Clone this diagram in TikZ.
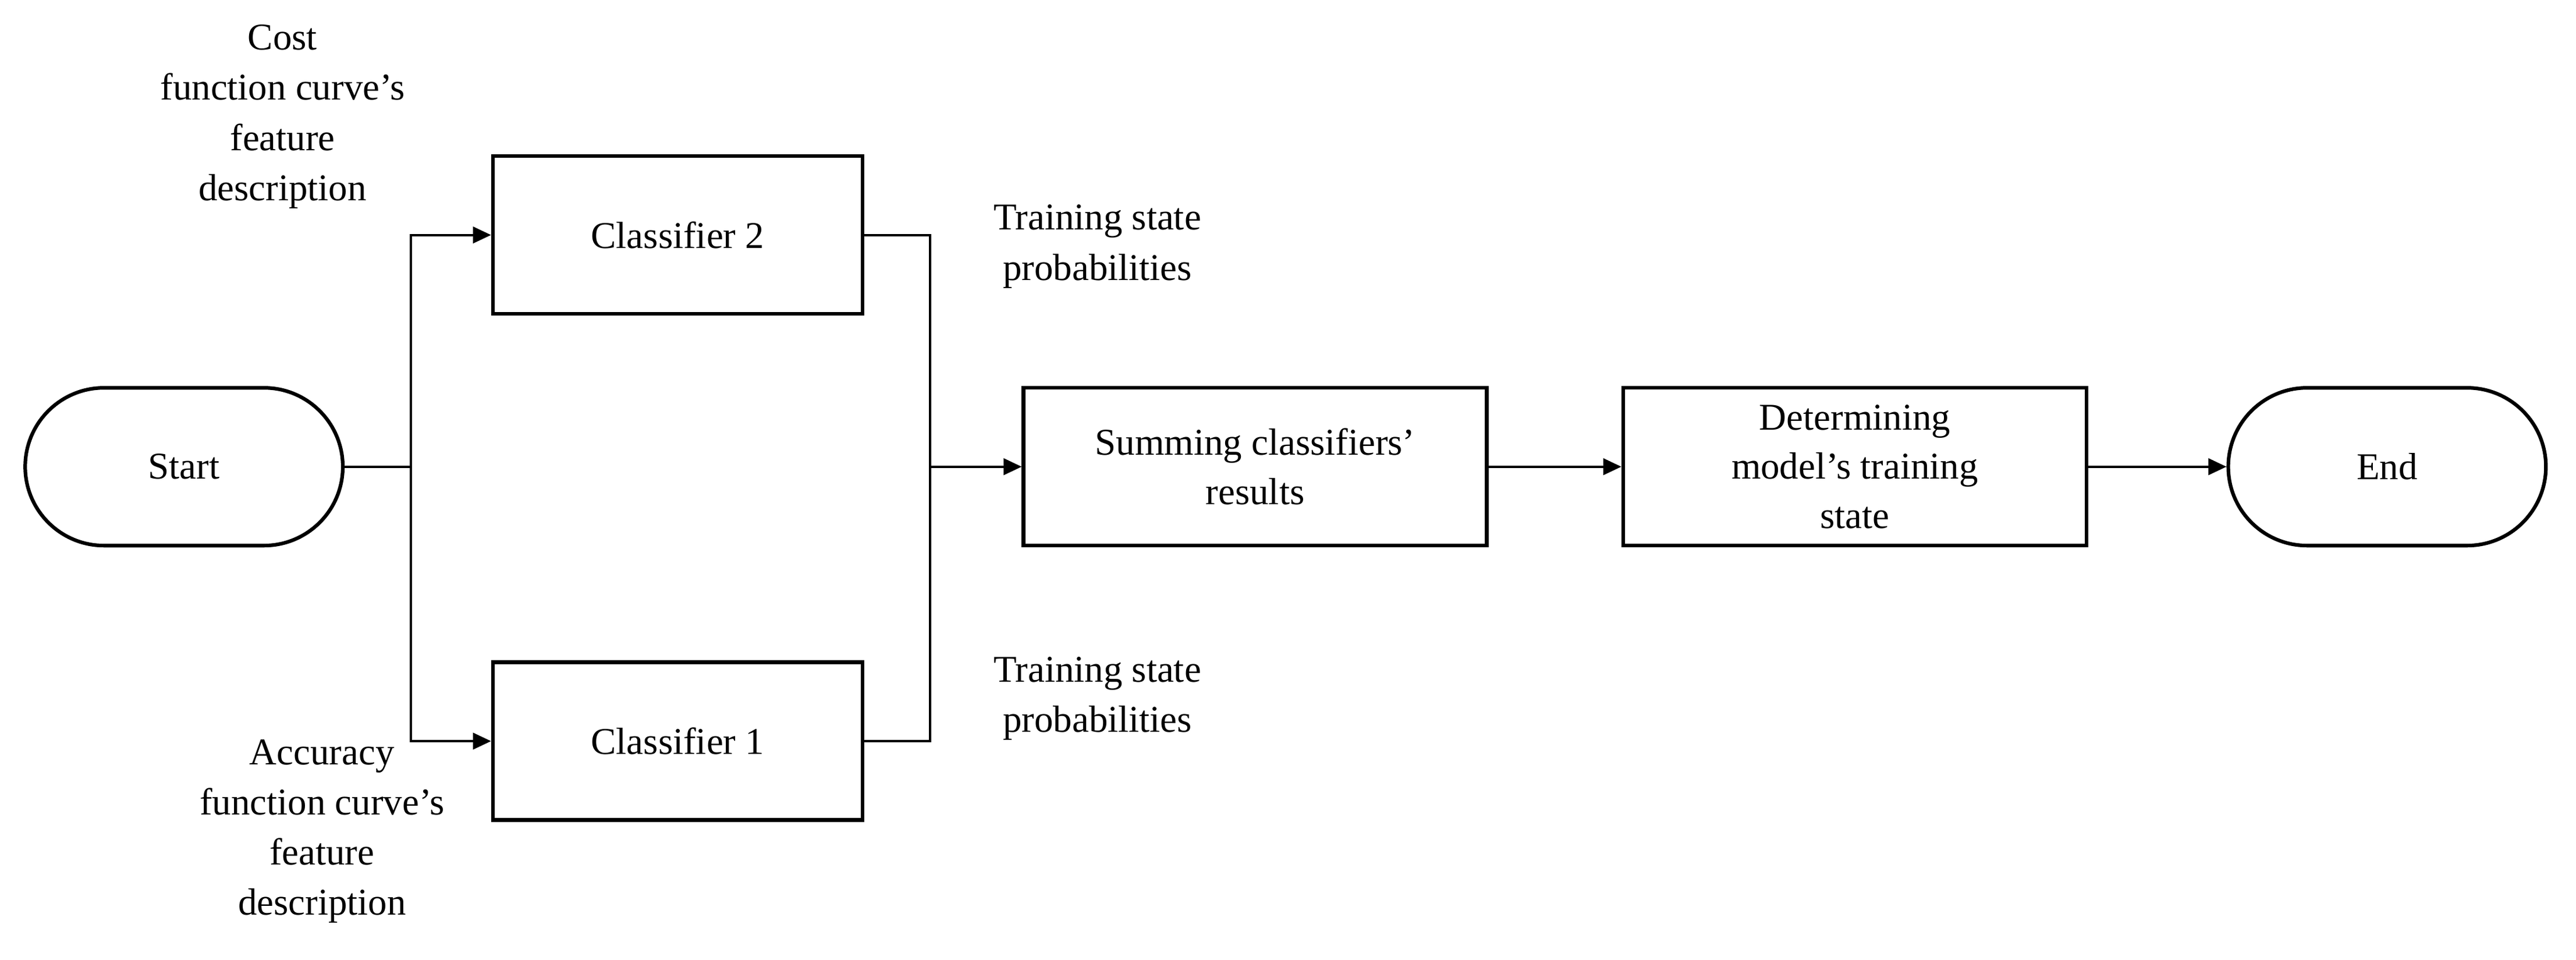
\documentclass[tikz,border=0pt]{standalone}
\usepackage{fontspec}
\setmainfont{Liberation Serif}
\usetikzlibrary{arrows.meta,shapes.misc}
\begin{document}
\begin{tikzpicture}[x=1pt,y=-1pt,
  box/.style={draw,line width=2.2pt,minimum width=225pt,minimum height=96pt,align=center,font=\fontsize{23}{30}\selectfont},
  term/.style={draw,line width=2.2pt,rounded rectangle,minimum width=200pt,minimum height=96pt,font=\fontsize{23}{30}\selectfont},
  lab/.style={align=center,font=\fontsize{23}{30.5}\selectfont},
  ln/.style={line width=1.4pt},
  arr/.style={ln,-{Triangle[length=11pt,width=10pt]}}]
\useasboundingbox (0,0) rectangle (1568,584);
\node[term] (start) at (112,284) {Start};
\node[box] (c2) at (412.5,143) {Classifier 2};
\node[box] (c1) at (412.5,451) {Classifier 1};
\node[box,minimum width=282pt] (sum) at (764,284) {Summing classifiers'\\results};
\node[box,minimum width=282pt] (det) at (1129,284) {Determining\\model's training\\state};
\node[term] (end) at (1453,284) {End};
\coordinate (sp) at (250,284);
\coordinate (mg) at (566,284);
\draw[ln] (start.east) -- (sp);
\draw[arr] (sp) |- (c2.west);
\draw[arr] (sp) |- (c1.west);
\draw[ln] (c2.east) -| (mg);
\draw[ln] (c1.east) -| (mg);
\draw[arr] (mg) -- (sum.west);
\draw[arr] (sum.east) -- (det.west);
\draw[arr] (det.east) -- (end.west);
\node[lab] (l1) at (172,71) {Cost\\function curve's\\feature\\description};
\node[lab] (l2) at (196,506) {Accuracy\\function curve's\\feature\\description};
\node[lab] (l3) at (668,150) {Training state\\probabilities};
\node[lab] (l4) at (668,425) {Training state\\probabilities};
\end{tikzpicture}
\end{document}
